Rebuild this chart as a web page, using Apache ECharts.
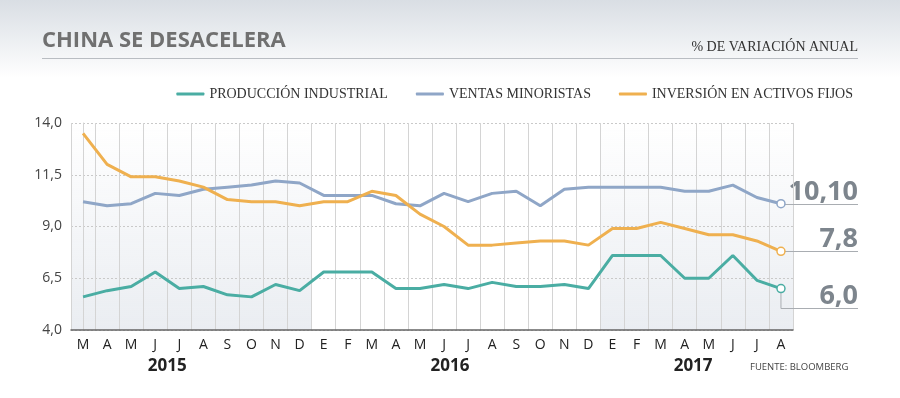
<!DOCTYPE html>
<html>
<head>
<meta charset="utf-8">
<script src="https://cdn.jsdelivr.net/npm/echarts@6/dist/echarts.min.js"></script>
<style>
  html, body { margin: 0; padding: 0; background: #fff; }
  #chart { width: 900px; height: 398px; }
</style>
</head>
<body>
<div id="chart"></div>
<script>
// meses de mar-2015 a ago-2017
const meses = ['M','A','M','J','J','A','S','O','N','D',
  'E','F','M','A','M','J','J','A','S','O','N','D',
  'E','F','M','A','M','J','J','A'];
const produccion = [5.6,5.9,6.1,6.8,6.0,6.1,5.7,5.6,6.2,5.9,
  6.8,6.8,6.8,6.0,6.0,6.2,6.0,6.3,6.1,6.1,6.2,6.0,
  7.6,7.6,7.6,6.5,6.5,7.6,6.4,6.0];
const ventas = [10.2,10.0,10.1,10.6,10.5,10.8,10.9,11.0,11.2,11.1,
  10.5,10.5,10.5,10.1,10.0,10.6,10.2,10.6,10.7,10.0,10.8,10.9,
  10.9,10.9,10.9,10.7,10.7,11.0,10.4,10.1];
const inversion = [13.5,12.0,11.4,11.4,11.2,10.9,10.3,10.2,10.2,10.0,
  10.2,10.2,10.7,10.5,9.6,9.0,8.1,8.1,8.2,8.3,8.3,8.1,
  8.9,8.9,9.2,8.9,8.6,8.6,8.3,7.8];
const nombres = ['PRODUCCIÓN INDUSTRIAL', 'VENTAS MINORISTAS', 'INVERSIÓN EN ACTIVOS FIJOS'];
const ultimos = ['6,0', '10,10', '7,8'];
// años: texto y posición (índice de mes, puede ser fraccional)
const anios = [['2015', 3.5], ['2016', 15.25], ['2017', 25.35]];
// tramos sombreados (índices de mes, de borde a borde)
const sombreados = [[-0.5, 9.5], [21.5, 29.5]];

const colores = ['#4aada3', '#8fa6c7', '#efb04f'];
const narrow = '"Liberation Sans Narrow", "Open Sans", sans-serif';
const serif = '"Liberation Serif", "DejaVu Serif", serif';

var myChart = echarts.init(document.getElementById('chart'));

function serie(i, valores) {
  let data = valores.map(function (v, k) {
    if (k === valores.length - 1) {
      return {
        value: v,
        symbol: 'circle',
        symbolSize: 8,
        itemStyle: { color: '#fff', borderColor: colores[i], borderWidth: 1.5 }
      };
    }
    return v;
  });
  return {
    name: nombres[i],
    type: 'line',
    symbol: 'none',
    data: data,
    lineStyle: { color: colores[i], width: 3 },
    itemStyle: { color: colores[i] },
    z: 3 + i,
    silent: true
  };
}

// degradado semitransparente para que se vean las líneas de la cuadrícula
let sombra = {
  type: 'linear', x: 0, y: 0, x2: 0, y2: 1,
  colorStops: [{ offset: 0, color: 'rgba(200,208,220,0)' }, { offset: 1, color: 'rgba(200,208,220,0.38)' }]
};

let series = [serie(0, produccion), serie(1, ventas), serie(2, inversion)];
// serie vacía sobre un eje auxiliar de valores solo para las zonas sombreadas
series.push({
  type: 'line',
  xAxisIndex: 1,
  data: [],
  z: -1,
  silent: true,
  markArea: {
    silent: true,
    z: -1,
    itemStyle: { color: sombra },
    data: sombreados.map(function (s) { return [{ xAxis: s[0] }, { xAxis: s[1] }]; })
  }
});

let option = {
  animation: false,
  grid: { left: 71, right: 107, top: 123, bottom: 68 },
  legend: {
    right: 42,
    top: 82,
    itemWidth: 28,
    itemHeight: 3,
    itemGap: 28,
    icon: 'roundRect',
    textStyle: { fontFamily: serif, fontSize: 14, color: '#333' },
    data: nombres
  },
  xAxis: [{
    type: 'category',
    data: meses,
    boundaryGap: true,
    axisLine: { lineStyle: { color: '#666', width: 1.5 } },
    axisTick: { show: false },
    axisLabel: { interval: 0, color: '#222', fontFamily: narrow, fontSize: 14, margin: 8 },
    splitLine: { show: true, interval: 0, lineStyle: { color: '#d4d4d4', width: 1 } }
  }, {
    type: 'value',
    min: -0.5,
    max: meses.length - 0.5,
    show: false
  }],
  yAxis: {
    type: 'value',
    min: 4,
    max: 14,
    interval: 2.5,
    axisLine: { show: true, lineStyle: { color: '#d4d4d4' } },
    axisTick: { show: false },
    axisLabel: {
      color: '#444', fontFamily: narrow, fontSize: 14, margin: 9,
      formatter: function (v) { return v.toFixed(1).replace('.', ','); }
    },
    splitLine: { lineStyle: { color: '#c9c9c9', type: [2, 2] } }
  },
  graphic: [
    {
      type: 'rect', z: -10, silent: true,
      shape: { x: 0, y: 0, width: 900, height: 78 },
      style: {
        fill: {
          type: 'linear', x: 0, y: 0, x2: 0, y2: 1,
          colorStops: [{ offset: 0, color: '#d9dee4' }, { offset: 1, color: '#ffffff' }]
        }
      }
    },
    {
      type: 'text', left: 42, top: 30,
      style: { text: 'CHINA SE DESACELERA', fill: '#707070', font: 'bold 22px ' + narrow }
    },
    {
      type: 'line',
      shape: { x1: 42, y1: 58.5, x2: 858, y2: 58.5 },
      style: { stroke: '#b9bdc2', lineWidth: 1 }
    },
    {
      type: 'text', right: 42, top: 40,
      style: { text: '% DE VARIACIÓN ANUAL', fill: '#333', font: '14px ' + serif }
    },
    {
      type: 'text', left: 750, top: 362,
      style: { text: 'FUENTE: BLOOMBERG', fill: '#444', font: '9.5px ' + narrow }
    }
  ],
  series: series
};

myChart.setOption(option);

// etiquetas de años y valores finales, colocadas desde las escalas
let extra = [];
anios.forEach(function (a) {
  let p = myChart.convertToPixel({ xAxisIndex: 1 }, a[1]);
  extra.push({
    type: 'text', x: p, y: 366,
    style: { text: a[0], fill: '#222', font: 'bold 17px ' + narrow, align: 'center', verticalAlign: 'middle' }
  });
});

let valores = [produccion, ventas, inversion];
let bajada = [19, 0, 0];
valores.forEach(function (vals, i) {
  let n = vals.length - 1;
  let p = myChart.convertToPixel({ seriesIndex: i }, [n, vals[n]]);
  let yl = Math.round(p[1] + bajada[i]) + 0.5;
  let pts = bajada[i] > 0 ? [[p[0], p[1] + 4], [p[0], yl], [858, yl]] : [[p[0] + 4, yl], [858, yl]];
  extra.push({
    type: 'polyline', z: 1,
    shape: { points: pts },
    style: { stroke: '#a9adb2', lineWidth: 1, fill: null }
  });
  extra.push({
    type: 'text', x: 858, y: yl + 1,
    style: { text: ultimos[i], fill: '#7d858d', font: 'bold 27px ' + narrow, align: 'right', verticalAlign: 'bottom' }
  });
});

option.graphic = option.graphic.concat(extra);
myChart.setOption({ graphic: option.graphic });
</script>
</body>
</html>
